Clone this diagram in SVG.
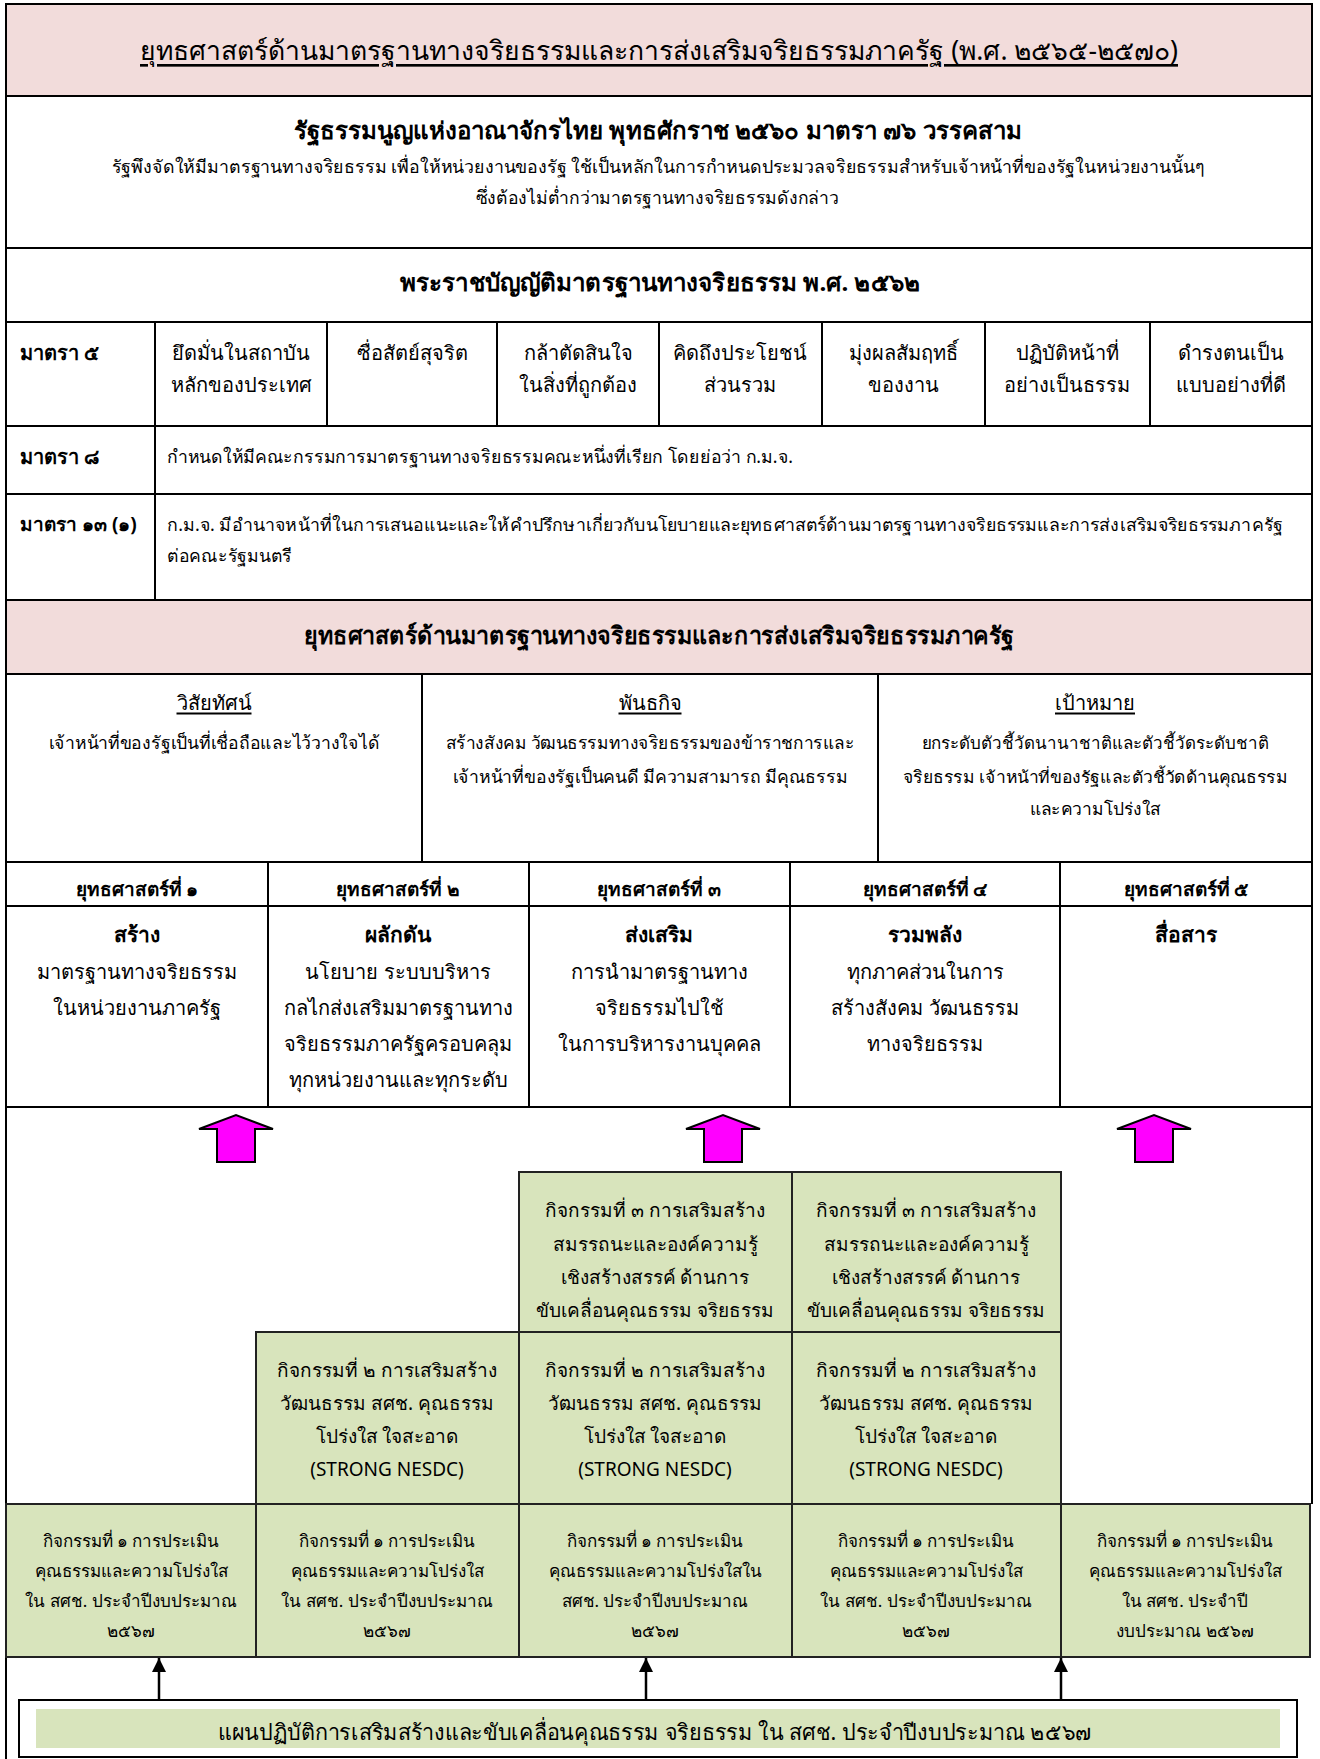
<svg xmlns="http://www.w3.org/2000/svg" width="1320" height="1759" viewBox="0 0 1320 1759">
<defs>
<style>
text{font-family:"Noto Sans","DejaVu Sans",sans-serif;fill:#000;font-size:20px;dominant-baseline:central}
.c{text-anchor:middle}
.b{font-weight:bold}
.u{text-decoration:underline}
.ln{stroke:#000;stroke-width:2;fill:none}
.pink{fill:#F2DCDB;stroke:#000;stroke-width:2}
.white{fill:#fff;stroke:#000;stroke-width:2}
.green{fill:#D8E4BC;stroke:#222;stroke-width:2}
.act{font-size:19px}
.act1{font-size:17px}
.body{font-size:18px}
.mag{fill:#FF00FF;stroke:#000;stroke-width:2;stroke-linejoin:miter}
.arr{stroke:#000;stroke-width:2.5;fill:none}
</style>
<marker id="ah2" viewBox="0 0 12 12" refX="12" refY="6" markerWidth="14" markerHeight="16" orient="auto" markerUnits="userSpaceOnUse">
<path d="M0,0 L12,6 L0,12 z" fill="#000"/>
</marker>
</defs>
<rect width="1320" height="1759" fill="#fff"/>

<g id="header">
<rect class="pink" x="6" y="4" width="1306" height="92"/>
<text class="c u" x="659" y="50" style="font-size:26.5px" textLength="1038" lengthAdjust="spacingAndGlyphs">ยุทธศาสตร์ด้านมาตรฐานทางจริยธรรมและการส่งเสริมจริยธรรมภาครัฐ (พ.ศ. ๒๕๖๕-๒๕๗๐)</text>
</g>

<g id="constitution">
<rect class="white" x="6" y="96" width="1306" height="152"/>
<text class="c b" x="658" y="129" style="font-size:24px" textLength="728" lengthAdjust="spacingAndGlyphs">รัฐธรรมนูญแห่งอาณาจักรไทย พุทธศักราช ๒๕๖๐ มาตรา ๗๖ วรรคสาม</text>
<text class="c body" x="658" y="166" textLength="1093" lengthAdjust="spacingAndGlyphs">รัฐพึงจัดให้มีมาตรฐานทางจริยธรรม เพื่อให้หน่วยงานของรัฐ ใช้เป็นหลักในการกำหนดประมวลจริยธรรมสำหรับเจ้าหน้าที่ของรัฐในหน่วยงานนั้นๆ</text>
<text class="c body" x="657" y="197" textLength="363" lengthAdjust="spacingAndGlyphs">ซึ่งต้องไม่ต่ำกว่ามาตรฐานทางจริยธรรมดังกล่าว</text>
</g>

<g id="act">
<rect class="white" x="6" y="248" width="1306" height="74"/>
<text class="c b" x="660" y="281" style="font-size:24px" textLength="520" lengthAdjust="spacingAndGlyphs">พระราชบัญญัติมาตรฐานทางจริยธรรม พ.ศ. ๒๕๖๒</text>
</g>

<g id="section5">
<rect class="white" x="6" y="322" width="1306" height="104"/>
<path class="ln" d="M155,322V426M327,322V426M497,322V426M659,322V426M822,322V426M985,322V426M1150,322V426"/>
<text class="b" x="20" y="352">มาตรา ๕</text>
<text class="c" x="241" y="352">ยึดมั่นในสถาบัน</text>
<text class="c" x="241" y="384">หลักของประเทศ</text>
<text class="c" x="412" y="352">ซื่อสัตย์สุจริต</text>
<text class="c" x="578" y="352">กล้าตัดสินใจ</text>
<text class="c" x="578" y="384">ในสิ่งที่ถูกต้อง</text>
<text class="c" x="740" y="352">คิดถึงประโยชน์</text>
<text class="c" x="740" y="384">ส่วนรวม</text>
<text class="c" x="903" y="352">มุ่งผลสัมฤทธิ์</text>
<text class="c" x="903" y="384">ของงาน</text>
<text class="c" x="1067" y="352">ปฏิบัติหน้าที่</text>
<text class="c" x="1067" y="384">อย่างเป็นธรรม</text>
<text class="c" x="1231" y="352">ดำรงตนเป็น</text>
<text class="c" x="1231" y="384">แบบอย่างที่ดี</text>
</g>

<g id="section8">
<rect class="white" x="6" y="426" width="1306" height="68"/>
<path class="ln" d="M155,426V494"/>
<text class="b" x="20" y="456">มาตรา ๘</text>
<text class="body" x="167" y="456" textLength="626" lengthAdjust="spacingAndGlyphs">กำหนดให้มีคณะกรรมการมาตรฐานทางจริยธรรมคณะหนึ่งที่เรียก โดยย่อว่า ก.ม.จ.</text>
</g>

<g id="section13">
<rect class="white" x="6" y="494" width="1306" height="106"/>
<path class="ln" d="M155,494V600"/>
<text class="b" x="20" y="524" style="font-size:19px">มาตรา ๑๓ (๑)</text>
<text class="body" x="167" y="524" style="font-size:17.5px" textLength="1116" lengthAdjust="spacingAndGlyphs">ก.ม.จ. มีอำนาจหน้าที่ในการเสนอแนะและให้คำปรึกษาเกี่ยวกับนโยบายและยุทธศาสตร์ด้านมาตรฐานทางจริยธรรมและการส่งเสริมจริยธรรมภาครัฐ</text>
<text class="body" x="167" y="555" textLength="125" lengthAdjust="spacingAndGlyphs">ต่อคณะรัฐมนตรี</text>
</g>

<g id="strategy-header">
<rect class="pink" x="6" y="600" width="1306" height="74"/>
<text class="c b" x="659" y="634" style="font-size:24px" textLength="710" lengthAdjust="spacingAndGlyphs">ยุทธศาสตร์ด้านมาตรฐานทางจริยธรรมและการส่งเสริมจริยธรรมภาครัฐ</text>
</g>

<g id="vision">
<rect class="white" x="6" y="674" width="416" height="188"/>
<text class="c u" x="214" y="702">วิสัยทัศน์</text>
<text class="c body" x="214" y="742" textLength="331" lengthAdjust="spacingAndGlyphs">เจ้าหน้าที่ของรัฐเป็นที่เชื่อถือและไว้วางใจได้</text>
</g>
<g id="mission">
<rect class="white" x="422" y="674" width="456" height="188"/>
<text class="c u" x="650" y="702">พันธกิจ</text>
<text class="c body" x="650" y="742" textLength="409" lengthAdjust="spacingAndGlyphs">สร้างสังคม วัฒนธรรมทางจริยธรรมของข้าราชการและ</text>
<text class="c body" x="650" y="776" textLength="395" lengthAdjust="spacingAndGlyphs">เจ้าหน้าที่ของรัฐเป็นคนดี มีความสามารถ มีคุณธรรม</text>
</g>
<g id="target">
<rect class="white" x="878" y="674" width="434" height="188"/>
<text class="c u" x="1095" y="702">เป้าหมาย</text>
<text class="c" x="1095" y="742" style="font-size:17px" textLength="347" lengthAdjust="spacingAndGlyphs">ยกระดับตัวชี้วัดนานาชาติและตัวชี้วัดระดับชาติ</text>
<text class="c" x="1095" y="776" style="font-size:16.5px" textLength="385" lengthAdjust="spacingAndGlyphs">จริยธรรม เจ้าหน้าที่ของรัฐและตัวชี้วัดด้านคุณธรรม</text>
<text class="c" x="1095" y="808" style="font-size:17px" textLength="130" lengthAdjust="spacingAndGlyphs">และความโปร่งใส</text>
</g>

<g id="strategy1">
<rect class="white" x="6" y="862" width="262" height="44"/>
<rect class="white" x="6" y="906" width="262" height="201"/>
<text class="c b" x="137" y="889" style="font-size:19px">ยุทธศาสตร์ที่ ๑</text>
<text class="c b" x="137" y="934" style="font-size:21px">สร้าง</text>
<text class="c" x="137" y="971">มาตรฐานทางจริยธรรม</text>
<text class="c" x="137" y="1007">ในหน่วยงานภาครัฐ</text>
</g>
<g id="strategy2">
<rect class="white" x="268" y="862" width="261" height="44"/>
<rect class="white" x="268" y="906" width="261" height="201"/>
<text class="c b" x="398" y="889" style="font-size:19px">ยุทธศาสตร์ที่ ๒</text>
<text class="c b" x="398" y="934" style="font-size:21px">ผลักดัน</text>
<text class="c" x="398" y="971">นโยบาย ระบบบริหาร</text>
<text class="c" x="398" y="1007">กลไกส่งเสริมมาตรฐานทาง</text>
<text class="c" x="398" y="1043">จริยธรรมภาครัฐครอบคลุม</text>
<text class="c" x="398" y="1079">ทุกหน่วยงานและทุกระดับ</text>
</g>
<g id="strategy3">
<rect class="white" x="529" y="862" width="261" height="44"/>
<rect class="white" x="529" y="906" width="261" height="201"/>
<text class="c b" x="659" y="889" style="font-size:19px">ยุทธศาสตร์ที่ ๓</text>
<text class="c b" x="659" y="934" style="font-size:21px">ส่งเสริม</text>
<text class="c" x="659" y="971">การนำมาตรฐานทาง</text>
<text class="c" x="659" y="1007">จริยธรรมไปใช้</text>
<text class="c" x="659" y="1043">ในการบริหารงานบุคคล</text>
</g>
<g id="strategy4">
<rect class="white" x="790" y="862" width="270" height="44"/>
<rect class="white" x="790" y="906" width="270" height="201"/>
<text class="c b" x="925" y="889" style="font-size:19px">ยุทธศาสตร์ที่ ๔</text>
<text class="c b" x="925" y="934" style="font-size:21px">รวมพลัง</text>
<text class="c" x="925" y="971">ทุกภาคส่วนในการ</text>
<text class="c" x="925" y="1007">สร้างสังคม วัฒนธรรม</text>
<text class="c" x="925" y="1043">ทางจริยธรรม</text>
</g>
<g id="strategy5">
<rect class="white" x="1060" y="862" width="252" height="44"/>
<rect class="white" x="1060" y="906" width="252" height="201"/>
<text class="c b" x="1186" y="889" style="font-size:19px">ยุทธศาสตร์ที่ ๕</text>
<text class="c b" x="1186" y="934" style="font-size:21px">สื่อสาร</text>
</g>

<g id="frame">
<path class="ln" d="M6,1107V1759M1312,1107V1504"/>
</g>

<g id="activity3-col3">
<rect class="green" x="519" y="1172" width="273" height="160"/>
<text class="c act" x="655" y="1210">กิจกรรมที่ ๓ การเสริมสร้าง</text>
<text class="c act" x="655" y="1244">สมรรถนะและองค์ความรู้</text>
<text class="c act" x="655" y="1277">เชิงสร้างสรรค์ ด้านการ</text>
<text class="c act" x="655" y="1310">ขับเคลื่อนคุณธรรม จริยธรรม</text>
</g>
<g id="activity3-col4">
<rect class="green" x="792" y="1172" width="269" height="160"/>
<text class="c act" x="926" y="1210">กิจกรรมที่ ๓ การเสริมสร้าง</text>
<text class="c act" x="926" y="1244">สมรรถนะและองค์ความรู้</text>
<text class="c act" x="926" y="1277">เชิงสร้างสรรค์ ด้านการ</text>
<text class="c act" x="926" y="1310">ขับเคลื่อนคุณธรรม จริยธรรม</text>
</g>

<g id="activity2-col2">
<rect class="green" x="256" y="1332" width="263" height="172"/>
<text class="c act" x="387" y="1370">กิจกรรมที่ ๒ การเสริมสร้าง</text>
<text class="c act" x="387" y="1403">วัฒนธรรม สศช. คุณธรรม</text>
<text class="c act" x="387" y="1436">โปร่งใส ใจสะอาด</text>
<text class="c act" x="387" y="1469">(STRONG NESDC)</text>
</g>
<g id="activity2-col3">
<rect class="green" x="519" y="1332" width="273" height="172"/>
<text class="c act" x="655" y="1370">กิจกรรมที่ ๒ การเสริมสร้าง</text>
<text class="c act" x="655" y="1403">วัฒนธรรม สศช. คุณธรรม</text>
<text class="c act" x="655" y="1436">โปร่งใส ใจสะอาด</text>
<text class="c act" x="655" y="1469">(STRONG NESDC)</text>
</g>
<g id="activity2-col4">
<rect class="green" x="792" y="1332" width="269" height="172"/>
<text class="c act" x="926" y="1370">กิจกรรมที่ ๒ การเสริมสร้าง</text>
<text class="c act" x="926" y="1403">วัฒนธรรม สศช. คุณธรรม</text>
<text class="c act" x="926" y="1436">โปร่งใส ใจสะอาด</text>
<text class="c act" x="926" y="1469">(STRONG NESDC)</text>
</g>

<g id="activity1-col1">
<rect class="green" x="6" y="1504" width="250" height="153"/>
<text class="c act1" x="131" y="1540">กิจกรรมที่ ๑ การประเมิน</text>
<text class="c act1" x="131" y="1570">คุณธรรมและความโปร่งใส</text>
<text class="c act1" x="131" y="1600">ใน สศช.  ประจำปีงบประมาณ</text>
<text class="c act1" x="131" y="1630">๒๕๖๗</text>
</g>
<g id="activity1-col2">
<rect class="green" x="256" y="1504" width="263" height="153"/>
<text class="c act1" x="387" y="1540">กิจกรรมที่ ๑ การประเมิน</text>
<text class="c act1" x="387" y="1570">คุณธรรมและความโปร่งใส</text>
<text class="c act1" x="387" y="1600">ใน สศช.  ประจำปีงบประมาณ</text>
<text class="c act1" x="387" y="1630">๒๕๖๗</text>
</g>
<g id="activity1-col3">
<rect class="green" x="519" y="1504" width="273" height="153"/>
<text class="c act1" x="655" y="1540">กิจกรรมที่ ๑ การประเมิน</text>
<text class="c act1" x="655" y="1570">คุณธรรมและความโปร่งใสใน</text>
<text class="c act1" x="655" y="1600">สศช.  ประจำปีงบประมาณ</text>
<text class="c act1" x="655" y="1630">๒๕๖๗</text>
</g>
<g id="activity1-col4">
<rect class="green" x="792" y="1504" width="269" height="153"/>
<text class="c act1" x="926" y="1540">กิจกรรมที่ ๑ การประเมิน</text>
<text class="c act1" x="926" y="1570">คุณธรรมและความโปร่งใส</text>
<text class="c act1" x="926" y="1600">ใน สศช.  ประจำปีงบประมาณ</text>
<text class="c act1" x="926" y="1630">๒๕๖๗</text>
</g>
<g id="activity1-col5">
<rect class="green" x="1061" y="1504" width="249" height="153"/>
<text class="c act1" x="1185" y="1540">กิจกรรมที่ ๑ การประเมิน</text>
<text class="c act1" x="1185" y="1570">คุณธรรมและความโปร่งใส</text>
<text class="c act1" x="1185" y="1600">ใน สศช.  ประจำปี</text>
<text class="c act1" x="1185" y="1630">งบประมาณ ๒๕๖๗</text>
</g>

<g id="action-plan">
<rect class="white" x="19" y="1700" width="1278" height="57"/>
<rect x="36" y="1709" width="1244" height="39" fill="#D8E4BC"/>
<text class="c" x="655" y="1731" style="font-size:22px" textLength="874" lengthAdjust="spacingAndGlyphs">แผนปฏิบัติการเสริมสร้างและขับเคลื่อนคุณธรรม จริยธรรม ใน สศช. ประจำปีงบประมาณ ๒๕๖๗</text>
</g>

<g id="connectors">
<polygon class="mag" points="217,1162 217,1129 199,1129 236,1115 273,1129 255,1129 255,1162"/>
<polygon class="mag" points="704,1162 704,1129 686,1129 723,1115 760,1129 742,1129 742,1162"/>
<polygon class="mag" points="1135,1162 1135,1129 1117,1129 1154,1115 1191,1129 1173,1129 1173,1162"/>
<line class="arr" x1="159" y1="1700" x2="159" y2="1658" marker-end="url(#ah2)"/>
<line class="arr" x1="646" y1="1700" x2="646" y2="1658" marker-end="url(#ah2)"/>
<line class="arr" x1="1061" y1="1700" x2="1061" y2="1658" marker-end="url(#ah2)"/>
</g>
</svg>
